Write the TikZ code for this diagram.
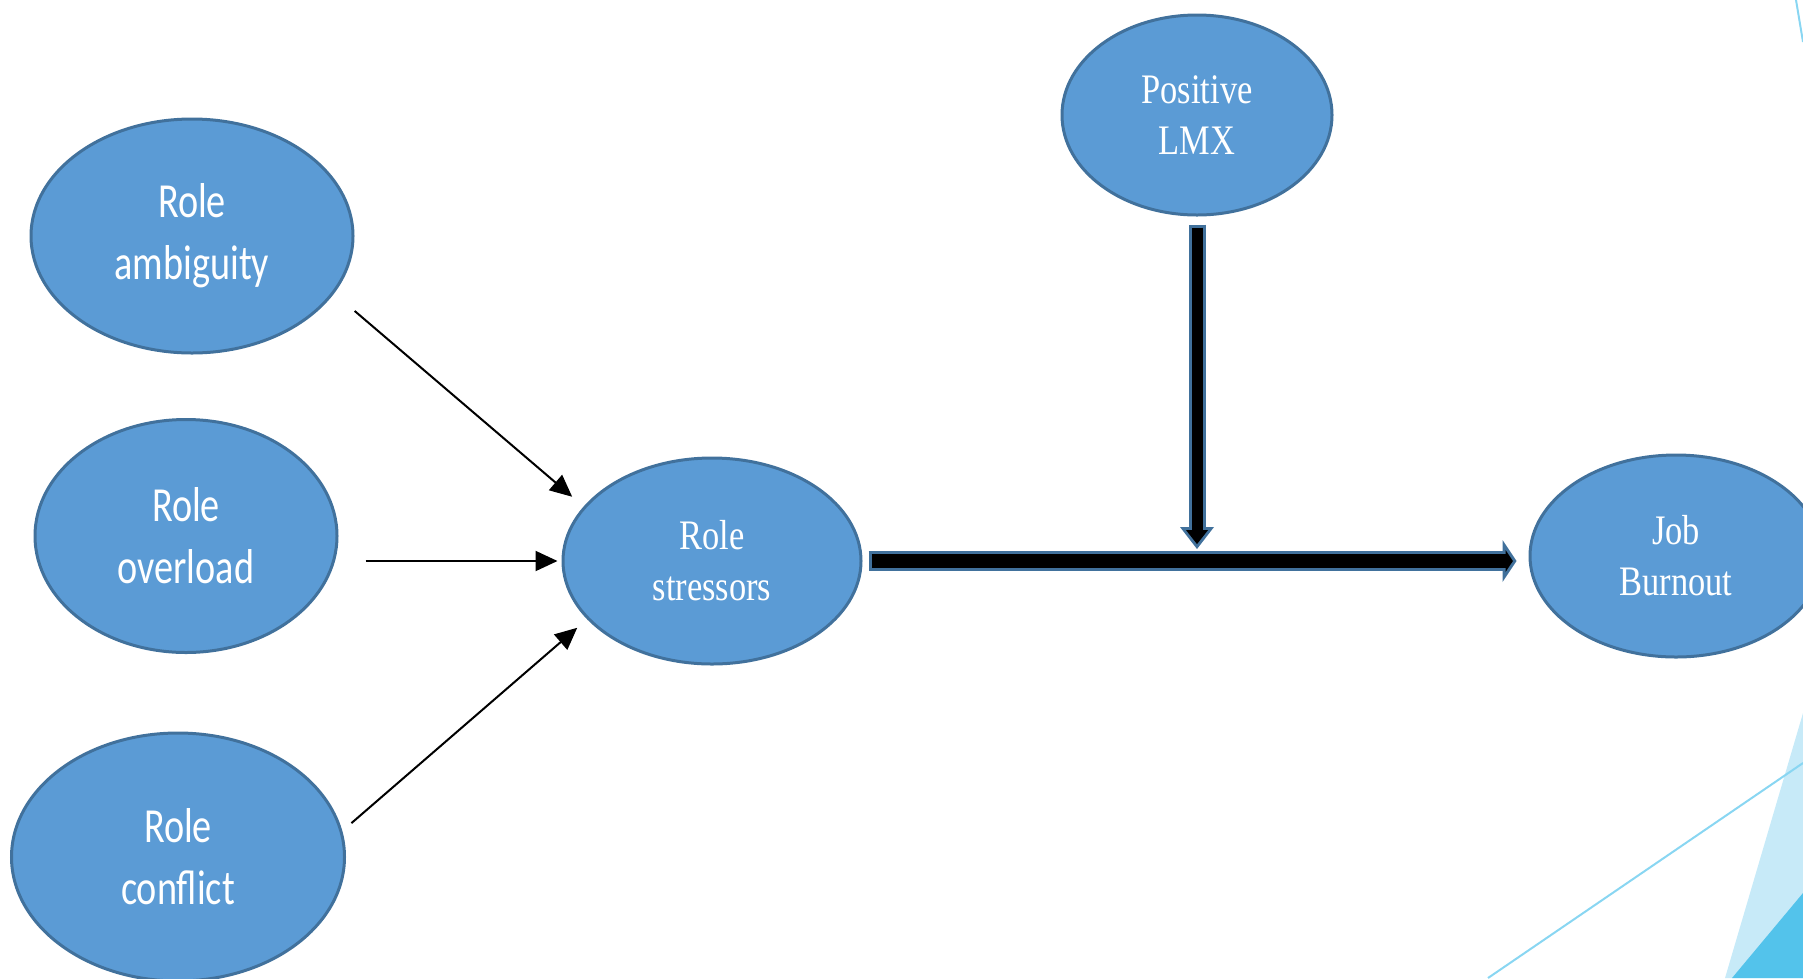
\documentclass[tikz,border=0pt]{standalone}
\usepackage{fontspec}
\usepackage{tikz}
\usetikzlibrary{arrows.meta}
\usetikzlibrary{shapes.geometric}
\newfontfamily\calibrifont[FakeStretch=0.78]{Carlito}
\newfontfamily\timesfont[FakeStretch=0.82]{Liberation Serif}
\definecolor{ovalfill}{HTML}{5B9BD5}
\definecolor{ovalline}{HTML}{41719C}
\definecolor{decolight}{HTML}{C7EAF8}
\definecolor{decodark}{HTML}{53C3EB}
\definecolor{decoline}{HTML}{89D6F2}

\begin{document}
\begin{tikzpicture}[x=1pt,y=-1pt,
  oval/.style={ellipse, draw=ovalline, fill=ovalfill, line width=3pt,
    inner sep=0pt, text=white, align=center},
  sansoval/.style={oval, font=\calibrifont\fontsize{49}{62}\selectfont},
  serifoval/.style={oval, font=\timesfont\fontsize{42}{51}\selectfont},
  thinarrow/.style={line width=2pt, -{Triangle[width=20pt,length=22pt]}},
  blockouter/.style={draw=ovalline, line width=20pt,
    -{Triangle[width=42pt,length=14pt,line width=0pt]}},
  blockinner/.style={draw=black, line width=14pt,
    -{Triangle[width=22pt,length=7.4pt,line width=0pt]}},
  vblockouter/.style={draw=ovalline, line width=17pt,
    -{Triangle[width=34pt,length=22pt,line width=0pt]}},
  vblockinner/.style={draw=black, line width=11pt,
    -{Triangle[width=22pt,length=14pt,line width=0pt]}}]
 \useasboundingbox (0,0) rectangle (1803,978);

 % corner decoration
 \fill[decolight] (1725,978) -- (1803,713) -- (1803,978) -- cycle;
 \fill[decodark] (1732,978) -- (1803,893) -- (1803,978) -- cycle;
 \draw[decoline, line width=2pt] (1488,978) -- (1803,763);
 \draw[decoline, line width=2pt] (1796,0) -- (1803,42);

 % stressors
 \node[sansoval, minimum width=322pt, minimum height=234pt] (amb) at (192,236) {Role\\ambiguity};
 \node[sansoval, minimum width=302pt, minimum height=233pt] (ovl) at (186,536) {Role\\overload};
 \node[sansoval, minimum width=333pt, minimum height=248pt] (cnf) at (178,857) {Role\\conflict};

 \node[serifoval, minimum width=298pt, minimum height=206pt] (str) at (712,561) {Role\\stressors};
 \node[serifoval, minimum width=270pt, minimum height=200pt] (lmx) at (1197,115) {Positive\\LMX};
 \node[serifoval, minimum width=292pt, minimum height=202pt] (bur) at (1676,556) {Job\\Burnout};

 \draw[thinarrow, shorten <=27pt, shorten >=15pt] (amb.-22.5) -- (str.157.7);
 \draw[thinarrow, shorten <=27pt, shorten >=4pt] (ovl.east |- str.west) -- (str.west);
 \draw[thinarrow, shorten <=12pt, shorten >=13pt] (cnf.9.4) -- (str.205);

 % moderated path
 \coordinate (join) at (lmx.south |- str.east);
 \draw[blockouter, shorten <=6pt, shorten >=12pt] (str.east) -- (str.east -| bur.west);
 \draw[blockinner, shorten <=9pt, shorten >=15.6pt] (str.east) -- (str.east -| bur.west);
 \draw[vblockouter, shorten <=8pt, shorten >=12pt] (lmx.south) -- (join);
 \draw[vblockinner, shorten <=11pt, shorten >=16.9pt] (lmx.south) -- (join);

\end{tikzpicture}
\end{document}
